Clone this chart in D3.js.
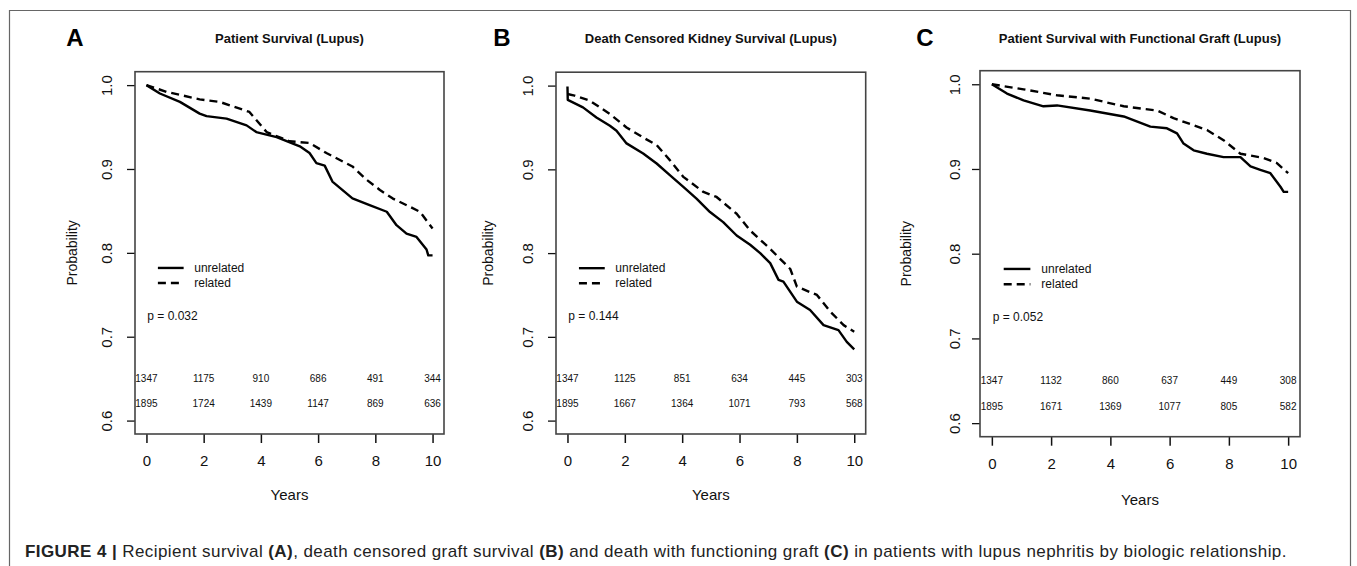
<!DOCTYPE html>
<html>
<head>
<meta charset="utf-8">
<script src="https://cdn.jsdelivr.net/npm/d3@7"></script>
<style>
  html, body { margin: 0; padding: 0; background: #fff; }
  svg { display: block; font-family: "Liberation Sans", Arial, sans-serif; }
</style>
</head>
<body>
<svg id="chart" width="1357" height="566"></svg>
<script>
// ---------------- DATA ----------------
const panelLetters = ["A", "B", "C"];
const panelTitles = [
  "Patient Survival (Lupus)",
  "Death Censored Kidney Survival (Lupus)",
  "Patient Survival with Functional Graft (Lupus)"
];
const pValues = ["p = 0.032", "p = 0.144", "p = 0.052"];
const seriesNames = ["unrelated", "related"];
const xTickValues = [0, 2, 4, 6, 8, 10];
const yTickValues = [0.6, 0.7, 0.8, 0.9, 1.0];
const yTickLabels = ["0.6", "0.7", "0.8", "0.9", "1.0"];
const xAxisTitle = "Years";
const yAxisTitle = "Probability";

// [years, survival probability]
const survA_unrelated = [[0,1.0],[0.47,0.990],[1.17,0.980],[1.86,0.966],[2.1,0.963],[2.8,0.960],[3.5,0.952],[3.84,0.944],[4.55,0.938],[5.36,0.927],[5.7,0.919],[5.94,0.907],[6.23,0.904],[6.5,0.885],[7.2,0.865],[7.8,0.857],[8.4,0.849],[8.74,0.833],[9.09,0.823],[9.44,0.819],[9.79,0.804],[9.85,0.797],[10,0.797]];
const survA_related = [[0,1.0],[0.7,0.992],[1.86,0.983],[2.56,0.980],[3.6,0.968],[4.2,0.944],[5.0,0.933],[5.7,0.931],[6.29,0.919],[7.2,0.903],[7.7,0.887],[8.16,0.875],[8.6,0.865],[9.56,0.849],[10,0.829]];
const survB_unrelated = [[0,0.999],[0.01,0.983],[0.54,0.974],[1.01,0.962],[1.48,0.952],[1.71,0.946],[2.06,0.931],[2.64,0.919],[3.11,0.907],[3.57,0.893],[4.04,0.879],[4.5,0.865],[4.97,0.849],[5.43,0.837],[5.9,0.821],[6.37,0.810],[6.72,0.800],[7.07,0.788],[7.36,0.768],[7.53,0.766],[8.0,0.742],[8.46,0.732],[8.93,0.714],[9.45,0.708],[9.74,0.694],[10,0.685]];
const survB_related = [[0,0.990],[0.25,0.988],[0.78,0.982],[1.48,0.966],[2.06,0.950],[2.64,0.938],[3.11,0.929],[3.57,0.911],[4.04,0.891],[4.74,0.873],[5.2,0.867],[5.9,0.847],[6.37,0.827],[7.07,0.805],[7.77,0.781],[8.0,0.760],[8.7,0.750],[9.17,0.730],[9.63,0.714],[10,0.706]];
const survC_unrelated = [[0,1.0],[0.51,0.989],[1.07,0.981],[1.74,0.974],[2.2,0.975],[3.32,0.969],[4.45,0.962],[5.35,0.950],[5.91,0.948],[6.25,0.942],[6.47,0.930],[6.81,0.922],[7.26,0.918],[7.82,0.914],[8.39,0.914],[8.73,0.903],[9.06,0.899],[9.4,0.895],[9.74,0.879],[9.85,0.873],[10,0.873]];
const survC_related = [[0,1.0],[1.07,0.994],[2.2,0.987],[3.32,0.983],[4.45,0.974],[5.58,0.969],[6.13,0.960],[7.26,0.946],[7.82,0.934],[8.39,0.918],[9.17,0.913],[9.62,0.907],[10,0.895]];

// numbers at risk at 0,2,4,6,8,10 years
const riskA_unrelated = [1347, 1175, 910, 686, 491, 344];
const riskA_related   = [1895, 1724, 1439, 1147, 869, 636];
const riskB_unrelated = [1347, 1125, 851, 634, 445, 303];
const riskB_related   = [1895, 1667, 1364, 1071, 793, 568];
const riskC_unrelated = [1347, 1132, 860, 637, 449, 308];
const riskC_related   = [1895, 1671, 1369, 1077, 805, 582];

const captionParts = [
  {t: "FIGURE 4 | ", b: true}, {t: "Recipient survival ", b: false}, {t: "(A)", b: true},
  {t: ", death censored graft survival ", b: false}, {t: "(B)", b: true},
  {t: " and death with functioning graft ", b: false}, {t: "(C)", b: true},
  {t: " in patients with lupus nephritis by biologic relationship.", b: false}
];

// ---------------- LAYOUT ----------------
const layout = [
  {L: 135, R: 444, T: 71.7, B: 434, letterX: 75, ylabX: 72, ytickOff: 28, xtickY: 460.7, xtitleY: 495},
  {L: 556, R: 865.7, T: 72.2, B: 434, letterX: 502, ylabX: 488, ytickOff: 28, xtickY: 460.7, xtitleY: 495},
  {L: 980, R: 1300, T: 70.7, B: 436.7, letterX: 925, ylabX: 906, ytickOff: 25, xtickY: 463, xtitleY: 500}
];
const curves = [[survA_unrelated, survA_related],[survB_unrelated, survB_related],[survC_unrelated, survC_related]];
const risks = [[riskA_unrelated, riskA_related],[riskB_unrelated, riskB_related],[riskC_unrelated, riskC_related]];

const svg = d3.select("#chart");
svg.append("rect").attr("width", 1357).attr("height", 566).attr("fill", "#fff");

// outer frame
svg.append("path").attr("d", "M9.5,566 V10.5 H1350.5 V566")
  .attr("fill", "none").attr("stroke", "#666").attr("stroke-width", 1.2);

const ink = "#111";

layout.forEach((p, i) => {
  const x = d3.scaleLinear().domain([-0.4, 10.4]).range([p.L, p.R]);
  const y = d3.scaleLinear().domain([0.584, 1.016]).range([p.B, p.T]);
  const g = svg.append("g");

  // panel letter and title
  g.append("text").attr("x", p.letterX).attr("y", 38).attr("dy", "0.35em")
    .attr("text-anchor", "middle").attr("font-size", 24).attr("font-weight", "bold")
    .attr("fill", "#000").text(panelLetters[i]);
  g.append("text").attr("x", (p.L + p.R) / 2).attr("y", 38).attr("dy", "0.35em")
    .attr("text-anchor", "middle").attr("font-size", 13).attr("font-weight", "bold")
    .attr("fill", ink).text(panelTitles[i]);

  // x axis
  const xa = g.append("g").attr("transform", `translate(0,${p.B})`)
    .call(d3.axisBottom(x).tickValues(xTickValues).tickSize(9).tickPadding(12.4).tickFormat(d3.format("d")));
  xa.select(".domain").remove();
  xa.selectAll("line").attr("stroke", ink).attr("stroke-width", 1.5);
  xa.selectAll("text").attr("font-size", 15).attr("fill", ink).attr("font-family", null);

  // y axis
  const ya = g.append("g").attr("transform", `translate(${p.L},0)`)
    .call(d3.axisLeft(y).tickValues(yTickValues).tickSize(8).tickFormat((d, k) => yTickLabels[k]));
  ya.select(".domain").remove();
  ya.selectAll("line").attr("stroke", ink).attr("stroke-width", 1.3);
  ya.selectAll("text").attr("font-size", 15).attr("fill", ink).attr("font-family", null)
    .attr("text-anchor", "middle").attr("transform", "rotate(-90)")
    .attr("x", 0).attr("y", -p.ytickOff).attr("dy", "0.36em");

  // axis titles
  g.append("text").attr("x", (p.L + p.R) / 2).attr("y", p.xtitleY).attr("dy", "0.35em")
    .attr("text-anchor", "middle").attr("font-size", 15).attr("fill", ink).text(xAxisTitle);
  g.append("text").attr("transform", `translate(${p.ylabX},${(p.T + p.B) / 2}) rotate(-90)`)
    .attr("dy", "0.35em").attr("text-anchor", "middle").attr("font-size", 14)
    .attr("fill", ink).text(yAxisTitle);

  // survival curves
  const line = d3.line().x(d => x(d[0])).y(d => y(d[1]));
  curves[i].forEach((c, k) => {
    g.append("path").datum(c).attr("d", line).attr("fill", "none")
      .attr("stroke", "#000").attr("stroke-width", 2.4)
      .attr("stroke-linejoin", "round")
      .attr("stroke-dasharray", k === 1 ? "8,5" : null);
  });

  // legend
  const legY = [0.782, 0.764];
  seriesNames.forEach((name, k) => {
    g.append("line").attr("x1", x(0.4)).attr("x2", x(1.3)).attr("y1", y(legY[k])).attr("y2", y(legY[k]))
      .attr("stroke", "#000").attr("stroke-width", 2.4).attr("stroke-dasharray", k === 1 ? "8,5" : null);
    g.append("text").attr("x", x(1.67)).attr("y", y(legY[k])).attr("dy", "0.35em")
      .attr("font-size", 12).attr("fill", ink).text(name);
  });
  g.append("text").attr("x", x(0.03)).attr("y", y(0.725)).attr("dy", "0.35em")
    .attr("font-size", 12).attr("fill", ink).text(pValues[i]);

  // numbers at risk
  const riskY = [0.65, 0.62];
  risks[i].forEach((row, k) => {
    g.selectAll(null).data(row).enter().append("text")
      .attr("x", (d, j) => x(xTickValues[j])).attr("y", y(riskY[k])).attr("dy", "0.35em")
      .attr("text-anchor", "middle").attr("font-size", 10).attr("fill", ink).text(d => d);
  });

  // plot box (drawn last so it overlaps the first risk label as in the original)
  g.append("rect").attr("x", p.L).attr("y", p.T).attr("width", p.R - p.L).attr("height", p.B - p.T)
    .attr("fill", "none").attr("stroke", "#444").attr("stroke-width", 1.6);
});

// caption, stretched to the width it spans in the original
const cap = svg.append("text").attr("x", 25).attr("y", 557).attr("font-size", 17).attr("fill", "#222");
captionParts.forEach(part => {
  cap.append("tspan").attr("font-weight", part.b ? "bold" : null).text(part.t);
});
const capTarget = 1262;
const capLen = cap.node().getComputedTextLength();
const nChars = captionParts.reduce((s, p) => s + p.t.length, 0);
cap.attr("letter-spacing", ((capTarget - capLen) / nChars).toFixed(3));
</script>
</body>
</html>
